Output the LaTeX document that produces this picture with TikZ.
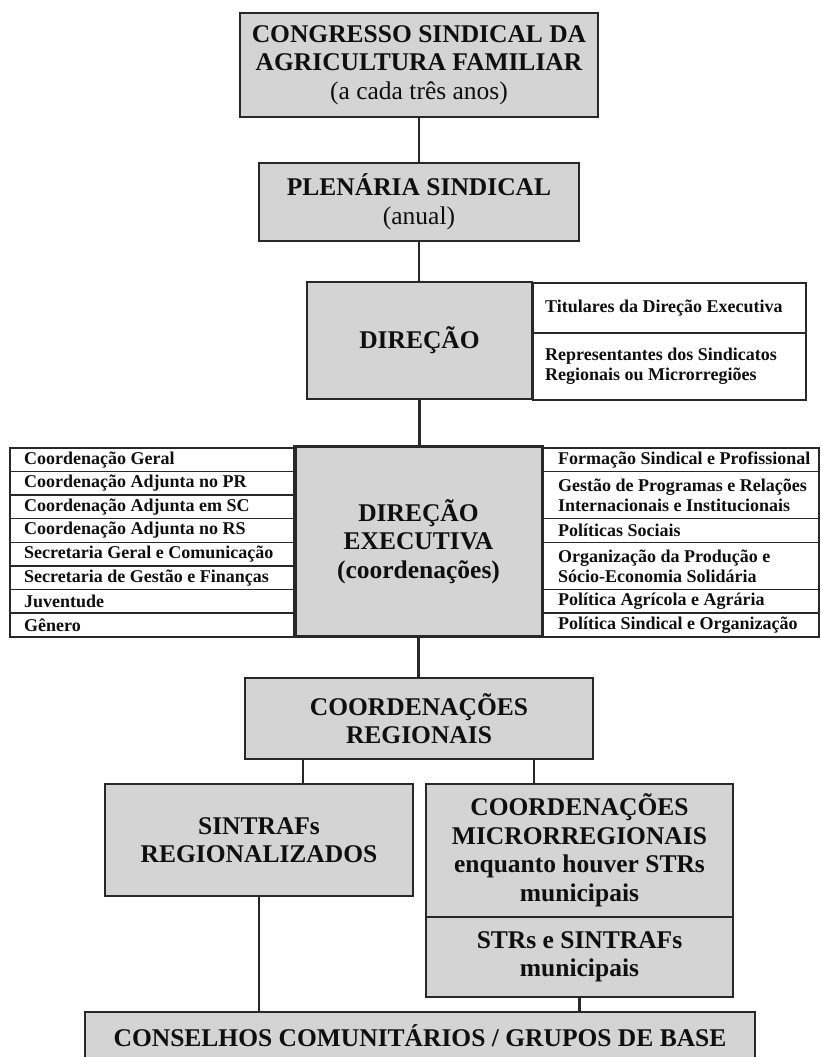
\documentclass[tikz,border=0pt]{standalone}
\usepackage{fontspec}
\setmainfont{Liberation Serif}
\definecolor{boxgray}{RGB}{212,212,212}
\definecolor{edgecol}{RGB}{40,40,40}
\definecolor{txtcol}{RGB}{15,15,15}
\tikzset{
  gbox/.style={draw=edgecol, line width=1.9pt, fill=boxgray, inner sep=0pt, align=center,
    text=txtcol, font=\bfseries\fontsize{25.5}{28.5}\selectfont},
  wcell/.style={draw=edgecol, line width=1.6pt, fill=white, inner sep=0pt, anchor=north west},
  celltext/.style={anchor=west, inner sep=0pt, align=left, text=txtcol,
    font=\bfseries\fontsize{18}{20}\selectfont},
  link/.style={draw=edgecol, line width=2.2pt},
}
\begin{document}
\begin{tikzpicture}[x=1pt,y=-1pt]
\useasboundingbox (0,0) rectangle (820,1057);
\clip (0,0) rectangle (820,1057);
\fill[white] (0,0) rectangle (820,1057);

% top levels
\node[gbox, minimum width=358pt, minimum height=104pt] (congresso) at (419,65)
  {CONGRESSO SINDICAL DA\\AGRICULTURA FAMILIAR\\{\mdseries (a cada três anos)}};
\node[gbox, minimum width=320pt, minimum height=78pt] (plenaria) at (419,202)
  {PLENÁRIA SINDICAL\\{\mdseries (anual)}};

% direcao
\node[gbox, minimum width=225pt, minimum height=117pt] (direcao) at (419.5,340.5) {DIREÇÃO};
\node[wcell, minimum width=273pt, minimum height=50pt] (dir1) at (532,282) {};
\node[wcell, minimum width=273pt, minimum height=67pt] (dir2) at (532,332) {};
\node[celltext] (dir1t) at ([xshift=13pt]dir1.west) {Titulares da Direção Executiva};
\node[celltext] (dir2t) at ([xshift=13pt]dir2.west) {Representantes dos Sindicatos\\Regionais ou Microrregiões};

% direcao executiva
\node[gbox, minimum width=247pt, minimum height=189pt] (exec) at (418.5,541.5)
  {DIREÇÃO\\EXECUTIVA\\(coordenações)};
\foreach \t [count=\i] in {Coordenação Geral,Coordenação Adjunta no PR,Coordenação Adjunta em SC,
  Coordenação Adjunta no RS,Secretaria Geral e Comunicação,Secretaria de Gestão e Finanças,
  Juventude,Gênero}{
  \node[wcell, minimum width=286pt, minimum height=23.625pt] (l\i) at (9,{447+(\i-1)*23.625}) {};
  \node[celltext] (lt\i) at ([xshift=15pt]l\i.west) {\t};
}
\node[wcell, minimum width=276pt, minimum height=23.625pt] (r1) at (542,447) {};
\node[wcell, minimum width=276pt, minimum height=47.25pt] (r2) at (542,470.625) {};
\node[wcell, minimum width=276pt, minimum height=23.625pt] (r3) at (542,517.875) {};
\node[wcell, minimum width=276pt, minimum height=47.25pt] (r4) at (542,541.5) {};
\node[wcell, minimum width=276pt, minimum height=23.625pt] (r5) at (542,588.75) {};
\node[wcell, minimum width=276pt, minimum height=23.625pt] (r6) at (542,612.375) {};
\node[celltext] (rt1) at ([xshift=16pt]r1.west) {Formação Sindical e Profissional};
\node[celltext] (rt2) at ([xshift=16pt]r2.west) {Gestão de Programas e Relações\\Internacionais e Institucionais};
\node[celltext] (rt3) at ([xshift=16pt]r3.west) {Políticas Sociais};
\node[celltext] (rt4) at ([xshift=16pt]r4.west) {Organização da Produção e\\Sócio-Economia Solidária};
\node[celltext] (rt5) at ([xshift=16pt]r5.west) {Política Agrícola e Agrária};
\node[celltext] (rt6) at ([xshift=16pt]r6.west) {Política Sindical e Organização};
\draw[edgecol, line width=1.9pt] (exec.north west) rectangle (exec.south east);

% regional levels
\node[gbox, minimum width=348pt, minimum height=81pt] (cr) at (419,718.5)
  {COORDENAÇÕES\\REGIONAIS};
\node[gbox, minimum width=308pt, minimum height=112pt] (sintraf) at (259,840)
  {SINTRAFs\\REGIONALIZADOS};
\node[gbox, minimum width=307pt, minimum height=133pt] (micro) at (579.5,850.5)
  {COORDENAÇÕES\\MICRORREGIONAIS\\enquanto houver STRs\\municipais};
\node[gbox, minimum width=307pt, minimum height=80pt] (strs) at (579.5,957)
  {STRs e SINTRAFs\\municipais};
\node[gbox, minimum width=670pt, minimum height=48pt] (conselhos) at (420,1036)
  {CONSELHOS COMUNITÁRIOS / GRUPOS DE BASE};

% connectors
\draw[link] (congresso.south) -- (plenaria.north);
\draw[link] (plenaria.south) -- (plenaria.south |- direcao.north);
\draw[link] (direcao.south) -- (direcao.south |- exec.north);
\draw[link] (exec.south) -- (exec.south |- cr.north);
\draw[link] ([xshift=-116pt]cr.south) -- ([xshift=-116pt]cr.south |- sintraf.north);
\draw[link] ([xshift=115pt]cr.south) -- ([xshift=115pt]cr.south |- micro.north);
\draw[link] (sintraf.south) -- (sintraf.south |- conselhos.north);
\draw[link] (strs.south) -- (strs.south |- conselhos.north);
\end{tikzpicture}
\end{document}
